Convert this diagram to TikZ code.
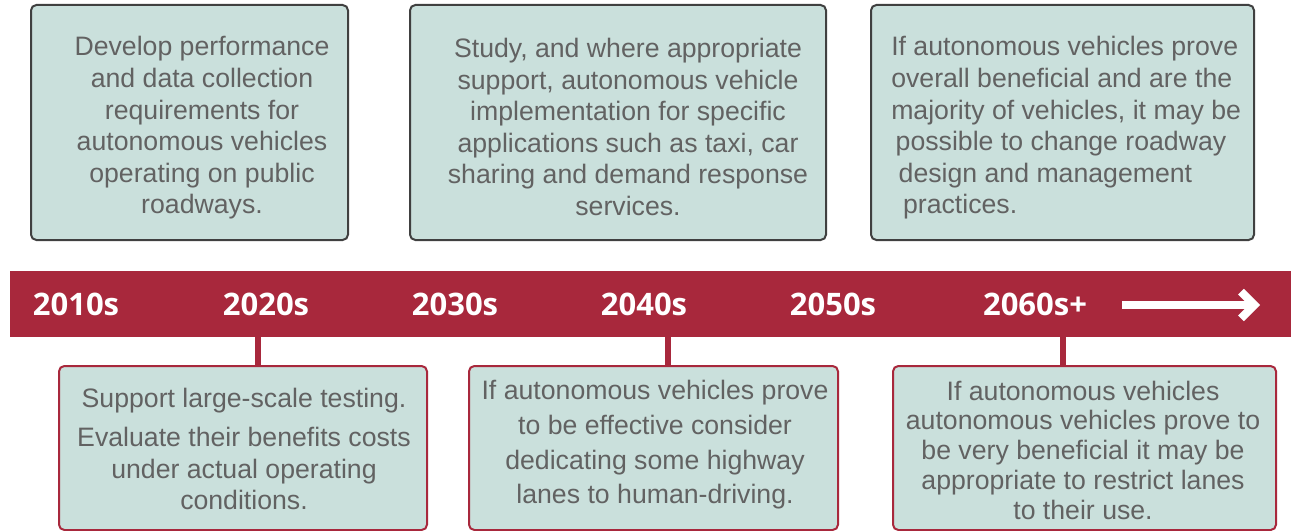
\documentclass[tikz,border=0pt]{standalone}
\usepackage{fontspec}
\setmainfont{Liberation Sans}
\newfontfamily\yearfont{Open Sans}
\usetikzlibrary{arrows.meta,fit,positioning}

\definecolor{bandred}{HTML}{A8283C}
\definecolor{boxfill}{HTML}{CAE0DC}
\definecolor{boxline}{HTML}{404040}
\definecolor{txtgray}{HTML}{626262}

\tikzset{
	topbox/.style={draw=boxline, fill=boxfill, line width=1.5pt, rounded corners=4pt, inner sep=0pt},
	lowbox/.style={draw=bandred, fill=boxfill, line width=1.5pt, rounded corners=4pt, inner sep=0pt},
	boxtext/.style={text=txtgray, align=center, inner sep=0pt, font=\fontsize{20}{23.7}\selectfont},
	year/.style={text=white, anchor=base, font=\yearfont\bfseries\fontsize{23.25}{28}\selectfont},
	tick/.style={bandred, line width=5pt},
}

\begin{document}
\begin{tikzpicture}[x=0.75pt, y=-0.75pt]
	\useasboundingbox (0,0) rectangle (1291,531);
	
	% boxes above the timeline
	\node[topbox, fit={(31,5) (348,240)}](box1){};
	\node[topbox, fit={(410,5) (826,240)}](box2){};
	\node[topbox, fit={(871,5) (1254,240)}](box3){};
	
	\node[boxtext](txt1) at (202,128) {Develop performance\\and data collection\\requirements for\\autonomous vehicles\\operating on public\\roadways.};
	\node[boxtext](txt2) at (628,127) {Study, and where appropriate\\support, autonomous vehicle\\implementation for specific\\applications such as taxi, car\\sharing and demand response\\services.};
	\node[boxtext, align=left, anchor=west](txt3) at (891,128) {If autonomous vehicles prove\\overall beneficial and are the\\majority of vehicles, it may be\\\,possible to change roadway\\\;design and management\\\;\,practices.};
	
	% the timeline
	\node[fill=bandred, inner sep=0pt, fit={(10,271) (1291,337)}](band){};
	\foreach \yr/\x [count=\i] in {2010s/76, 2020s/266, 2030s/455, 2040s/644, 2050s/833, 2060s+/1035}
		\node[year](yr\i) at (\x,315) {\yr};
	\coordinate(a0) at (1122,305);
	\coordinate(a1) at (1260,305);
	\draw[white, line width=6pt, -{Straight Barb[length=10pt, width=20pt]}] (a0) -- (a1);
	
	% boxes below the timeline
	\node[lowbox, fit={(59,366) (427,530)}](box4){};
	\node[lowbox, fit={(469,366) (838,530)}](box5){};
	\node[lowbox, fit={(893,366) (1276,530)}](box6){};
	
	\coordinate(c1) at (258,0);
	\coordinate(c2) at (668,0);
	\coordinate(c3) at (1063,0);
	\draw[tick] (band.south -| c1) -- (box4.north -| c1);
	\draw[tick] (band.south -| c2) -- (box5.north -| c2);
	\draw[tick] (band.south -| c3) -- (box6.north -| c3);
	
	\node[boxtext](txt4) at (244,449) {Support large-scale testing.\\[6pt]Evaluate their benefits costs\\under actual operating\\conditions.};
	\node[boxtext, font=\fontsize{20}{26}\selectfont](txt5) at (655,445) {If autonomous vehicles prove\\to be effective consider\\dedicating some highway\\lanes to human-driving.};
	\node[boxtext, font=\fontsize{20}{22.3}\selectfont](txt6) at (1083,450) {If autonomous vehicles\\autonomous vehicles prove to\\be very beneficial it may be\\appropriate to restrict lanes\\to their use.};
\end{tikzpicture}
\end{document}
